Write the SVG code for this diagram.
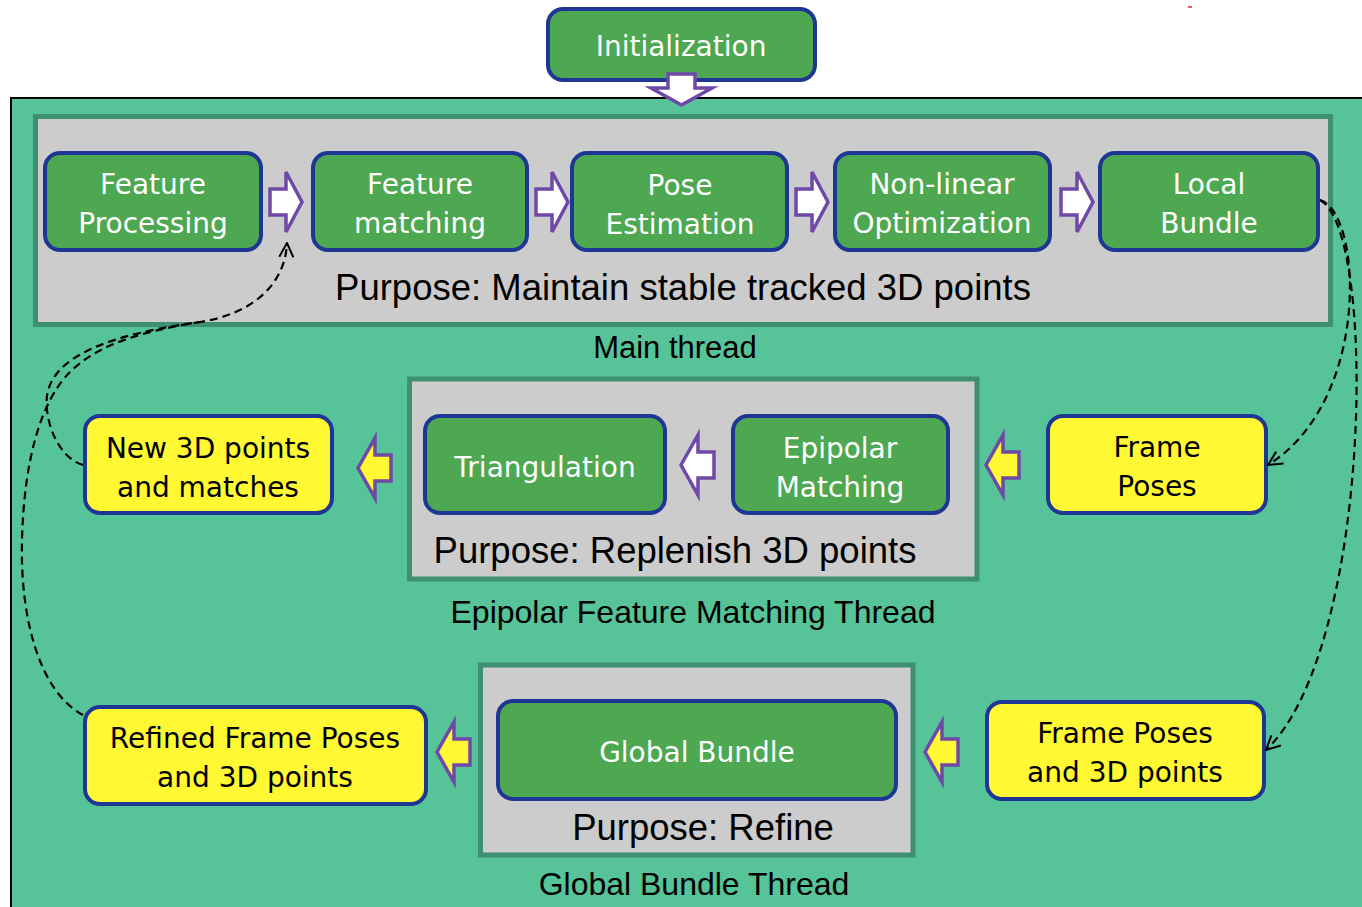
<svg xmlns="http://www.w3.org/2000/svg" xmlns:xlink="http://www.w3.org/1999/xlink" width="1362" height="907" viewBox="0 0 1362 907">
<style>
.gbox{fill:#4DA851;stroke:#1F3794;stroke-width:4}
.ybox{fill:#FFF833;stroke:#1F3794;stroke-width:4}
.panel{fill:#CCCCCC;stroke:#3F9070;stroke-width:5}
.wt{font-family:"DejaVu Sans",Verdana,sans-serif;font-size:28px;fill:#FFFFFF;text-anchor:middle}
.bt{font-family:"DejaVu Sans",Verdana,sans-serif;font-size:28px;fill:#000000;text-anchor:middle}
.lbl{font-family:"Liberation Sans",Arial,sans-serif;fill:#000000;text-anchor:middle}
.wa{fill:#FFFFFF;stroke:#7048A8;stroke-width:3.5;stroke-linejoin:miter}
.ya{fill:#FFF833;stroke:#7048A8;stroke-width:3.5;stroke-linejoin:miter}
.dash{fill:none;stroke:#000000;stroke-width:2.2;stroke-dasharray:8,5}
</style>
<defs>
<path id="arrR" d="M0,-13 H16 V-30 L32,0 L16,30 V13 H0 Z"/>
<path id="arrL" d="M0,0 L17,-30 V-13 H33 V13 H17 V30 Z"/>
<marker id="open" viewBox="0 0 16 16" refX="15" refY="8" markerWidth="16" markerHeight="16" markerUnits="userSpaceOnUse" orient="auto">
<path d="M1,1 L15,8 L1,15" fill="none" stroke="#000000" stroke-width="2"/>
</marker>
</defs>
<rect x="0" y="0" width="1362" height="907" fill="#FFFFFF"/>
<rect x="1188" y="6" width="4" height="2" fill="#E06060"/>
<rect id="background" x="11" y="98" width="1360" height="820" fill="#57C398" stroke="#000000" stroke-width="2"/>

<g id="main-thread">
<rect class="panel" x="35.5" y="116.5" width="1295" height="208"/>
<text class="lbl" x="683" y="300" font-size="36.5">Purpose: Maintain stable tracked 3D points</text>
<text class="lbl" x="675" y="358" font-size="31">Main thread</text>
</g>
<g id="epipolar-thread">
<rect class="panel" x="409.5" y="379" width="567.5" height="200"/>
<text class="lbl" x="675" y="563" font-size="36.5">Purpose: Replenish 3D points</text>
<text class="lbl" x="693" y="623" font-size="32">Epipolar Feature Matching Thread</text>
</g>
<g id="global-thread">
<rect class="panel" x="480.5" y="665" width="432.5" height="190"/>
<text class="lbl" x="703" y="840" font-size="36.5">Purpose: Refine</text>
<text class="lbl" x="694" y="895" font-size="32">Global Bundle Thread</text>
</g>

<g id="initialization">
<rect class="gbox" x="548" y="9" width="267" height="71" rx="15"/>
<text class="wt" x="681" y="56">Initialization</text>
</g>
<g id="feature-processing">
<rect class="gbox" x="45" y="153" width="216" height="97" rx="15"/>
<text class="wt" x="153" y="194">Feature</text>
<text class="wt" x="153" y="233">Processing</text>
</g>
<g id="feature-matching">
<rect class="gbox" x="313" y="153" width="214" height="97" rx="15"/>
<text class="wt" x="420" y="194">Feature</text>
<text class="wt" x="420" y="233">matching</text>
</g>
<g id="pose-estimation">
<rect class="gbox" x="572" y="153" width="215" height="97" rx="15"/>
<text class="wt" x="680" y="195">Pose</text>
<text class="wt" x="680" y="234">Estimation</text>
</g>
<g id="nonlinear-optimization">
<rect class="gbox" x="835" y="153" width="215" height="97" rx="15"/>
<text class="wt" x="942" y="194">Non-linear</text>
<text class="wt" x="942" y="233">Optimization</text>
</g>
<g id="local-bundle">
<rect class="gbox" x="1100" y="153" width="218" height="97" rx="15"/>
<text class="wt" x="1209" y="194">Local</text>
<text class="wt" x="1209" y="233">Bundle</text>
</g>
<g id="triangulation">
<rect class="gbox" x="425" y="416" width="240" height="97" rx="15"/>
<text class="wt" x="545" y="477">Triangulation</text>
</g>
<g id="epipolar-matching">
<rect class="gbox" x="733" y="416" width="215" height="97" rx="15"/>
<text class="wt" x="840" y="458">Epipolar</text>
<text class="wt" x="840" y="497">Matching</text>
</g>
<g id="new-3d-points">
<rect class="ybox" x="85" y="416" width="247" height="97" rx="15"/>
<text class="bt" x="208" y="458">New 3D points</text>
<text class="bt" x="208" y="497">and matches</text>
</g>
<g id="frame-poses">
<rect class="ybox" x="1048" y="416" width="218" height="97" rx="15"/>
<text class="bt" x="1157" y="457">Frame</text>
<text class="bt" x="1157" y="496">Poses</text>
</g>
<g id="global-bundle">
<rect class="gbox" x="498" y="701" width="398" height="98" rx="15"/>
<text class="wt" x="697" y="762">Global Bundle</text>
</g>
<g id="refined-poses">
<rect class="ybox" x="85" y="707" width="341" height="97" rx="15"/>
<text class="bt" x="255" y="748">Refined Frame Poses</text>
<text class="bt" x="255" y="787">and 3D points</text>
</g>
<g id="frame-poses-3d">
<rect class="ybox" x="987" y="702" width="277" height="97" rx="15"/>
<text class="bt" x="1125" y="743">Frame Poses</text>
<text class="bt" x="1125" y="782">and 3D points</text>
</g>

<g id="connectors">
<path class="wa" d="M668,74 H695 V88 H712 L681.5,105 L651,88 H668 Z"/>
<use href="#arrR" class="wa" x="270" y="202"/>
<use href="#arrR" class="wa" x="536" y="202"/>
<use href="#arrR" class="wa" x="796" y="202"/>
<use href="#arrR" class="wa" x="1061" y="202"/>
<use href="#arrL" class="wa" x="681" y="465"/>
<use href="#arrL" class="ya" x="358" y="468"/>
<use href="#arrL" class="ya" x="986" y="465"/>
<use href="#arrL" class="ya" x="437" y="752"/>
<use href="#arrL" class="ya" x="925" y="752"/>
<path class="dash" marker-end="url(#open)" d="M1320,200 C1362,212 1372,400 1268,465"/>
<path class="dash" marker-end="url(#open)" d="M1320,200 C1378,230 1372,650 1266,750"/>
<path class="dash" marker-end="url(#open)" d="M83,465 C58,458 44,420 47,396 C52,358 105,335 200,322 C252,314 285,285 287,243"/>
<path class="dash" d="M83,715 C40,692 20,620 22,540 C24,462 40,402 70,372 C100,342 150,330 200,322"/>
</g>
</svg>
